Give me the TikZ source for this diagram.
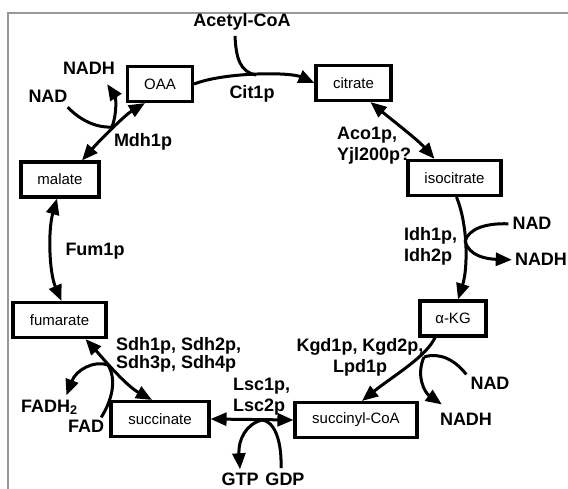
\documentclass[tikz,border=0pt]{standalone}
\usepackage{fontspec}
\setmainfont{Liberation Sans}
\usetikzlibrary{arrows.meta,calc}
\begin{document}
\begin{tikzpicture}[x=1pt,y=-1pt,
  box/.style={draw, line width=3.1pt, minimum height=35pt, inner sep=0pt, font=\fontsize{15}{17}\selectfont},
  lbl/.style={font=\bfseries\fontsize{18}{21}\selectfont, inner sep=0pt, anchor=base},
  lbls/.style={font=\bfseries\fontsize{18}{18}\selectfont, inner sep=0pt},
  conn/.style={line width=3pt},
  tip/.style={conn, -{Triangle[length=16pt,width=13pt]}},
  dtip/.style={conn, {Triangle[length=16pt,width=13pt]}-{Triangle[length=16pt,width=13pt]}},
  frame/.style={draw=black!40, line width=1.2pt}
]
\useasboundingbox (0,0) rectangle (568,489);
\draw[frame] (8,489) -- (8,13) -- (568,13);

% boxes
\node[box, minimum width=65pt] (oaa) at (160,84) {OAA};
\node[box, minimum width=75pt] (citrate) at (353.5,83) {citrate};
\node[box, minimum width=93pt] (isocitrate) at (454.5,178) {isocitrate};
\node[box, minimum width=66pt] (akg) at (453,318.5) {α-KG};
\node[box, minimum width=122pt] (succoa) at (356,420) {succinyl-CoA};
\node[box, minimum width=98pt] (succinate) at (160,419) {succinate};
\node[box, minimum width=93pt] (fumarate) at (59.5,320) {fumarate};
\node[box, minimum width=78pt] (malate) at (60,179.5) {malate};

% labels
\node[lbl] (acetyl) at (242,27) {Acetyl-CoA};
\node[lbl] (cit1p) at (252,99) {Cit1p};
\node[lbl] (nadh1) at (89,75) {NADH};
\node[lbl] (nad1) at (48,103) {NAD};
\node[lbl] (mdh) at (143,147) {Mdh1p};
\node[lbl] (fum) at (95,256) {Fum1p};
\node[lbl, anchor=north west, align=left] (aco) at (337,127) {Aco1p,\\Yjl200p?};
\node[lbl] (nad2) at (532,230) {NAD};
\node[lbl, anchor=north west, align=left] (idh) at (404,227) {Idh1p,\\Idh2p};
\node[lbl] (nadh2) at (541,266) {NADH};
\node[lbl, anchor=north, align=center] (kgd) at (360,338) {Kgd1p, Kgd2p,\\Lpd1p};
\node[lbl] (nad3) at (490,389) {NAD};
\node[lbl] (nadh3) at (466,425) {NADH};
\node[lbls, anchor=north west, align=left] (sdh) at (116,337) {Sdh1p, Sdh2p,\\Sdh3p, Sdh4p};
\node[lbl, anchor=north west, align=left] (lsc) at (233,378) {Lsc1p,\\Lsc2p};
\node[lbl, anchor=base west] (fadh) at (21,412) {FADH\textsubscript{2}};
\node[lbl] (fad) at (86,432) {FAD};
\node[lbl] (gtp) at (240,485) {GTP};
\node[lbl] (gdp) at (285,485) {GDP};

% junctions
\coordinate (jac) at (256,75);
\coordinate (jmdh) at (112,127);
\coordinate (jidh) at (465,241);
\coordinate (jkgd) at (424,357);
\coordinate (jlsc) at (262,420);
\coordinate (jsdh) at (108,365);

% OAA -> citrate
\draw[tip] (oaa.east) .. controls (225,72) and (290,72) .. (citrate.west);
\draw[conn] ($(acetyl.south)+(-7,5)$) .. controls (236,58) and (240,72) .. (jac);

% citrate <-> isocitrate
\draw[dtip] ($(citrate.south)+(17,0)$) .. controls (392,120) and (418,140) .. ($(isocitrate.north)+(-20,0)$);

% isocitrate -> aKG
\draw[tip] ($(isocitrate.south)+(2,0)$) .. controls (468,225) and (468,268) .. ($(akg.north)+(5,0)$);
\draw[conn] ($(nad2.west)+(-4,0)$) .. controls (485,223) and (469,229) .. (jidh);
\draw[tip] (jidh) .. controls (469,256) and (486,259) .. ($(nadh2.west)+(-3,0)$);

% aKG -> succinyl-CoA
\draw[tip] ($(akg.south)+(-18,0)$) .. controls (426,357) and (393,376) .. ($(succoa.north)+(6,0)$);
\draw[conn] ($(nad3.north west)+(-4,-2)$) .. controls (455,360) and (440,352) .. (jkgd);
\draw[tip] (jkgd) .. controls (416,375) and (424,392) .. ($(nadh3.north west)+(2,-8)$);

% succinate <-> succinyl-CoA
\draw[dtip] (succinate.east) -- (succoa.west);
\draw[tip] (jlsc) .. controls (246,424) and (238,440) .. ($(gtp.north)+(0,-3)$);
\draw[conn] ($(gdp.north)+(-4,-4)$) .. controls (282,440) and (274,421) .. (jlsc);

% succinate <-> fumarate
\draw[dtip] ($(succinate.north)+(-8,0)$) .. controls (125,385) and (100,355) .. ($(fumarate.south)+(26,0)$);
\draw[tip] (jsdh) .. controls (94,360) and (76,370) .. ($(fadh.north)+(17,-4)$);
\draw[conn] ($(fad.north east)+(-3,-2)$) .. controls (112,400) and (117,380) .. (jsdh);

% fumarate <-> malate
\draw[dtip] ($(fumarate.north)+(2,0)$) .. controls (49,272) and (48,230) .. ($(malate.south)+(-3,0)$);

% malate <-> OAA
\draw[dtip] ($(malate.north)+(22,0)$) .. controls (100,140) and (125,115) .. ($(oaa.south)+(-15,0)$);
\draw[conn] ($(nad1.south east)+(0,4)$) .. controls (80,120) and (96,128) .. (jmdh);
\draw[tip] (jmdh) .. controls (118,110) and (115,96) .. ($(nadh1.south east)+(-8,9)$);
\end{tikzpicture}
\end{document}
